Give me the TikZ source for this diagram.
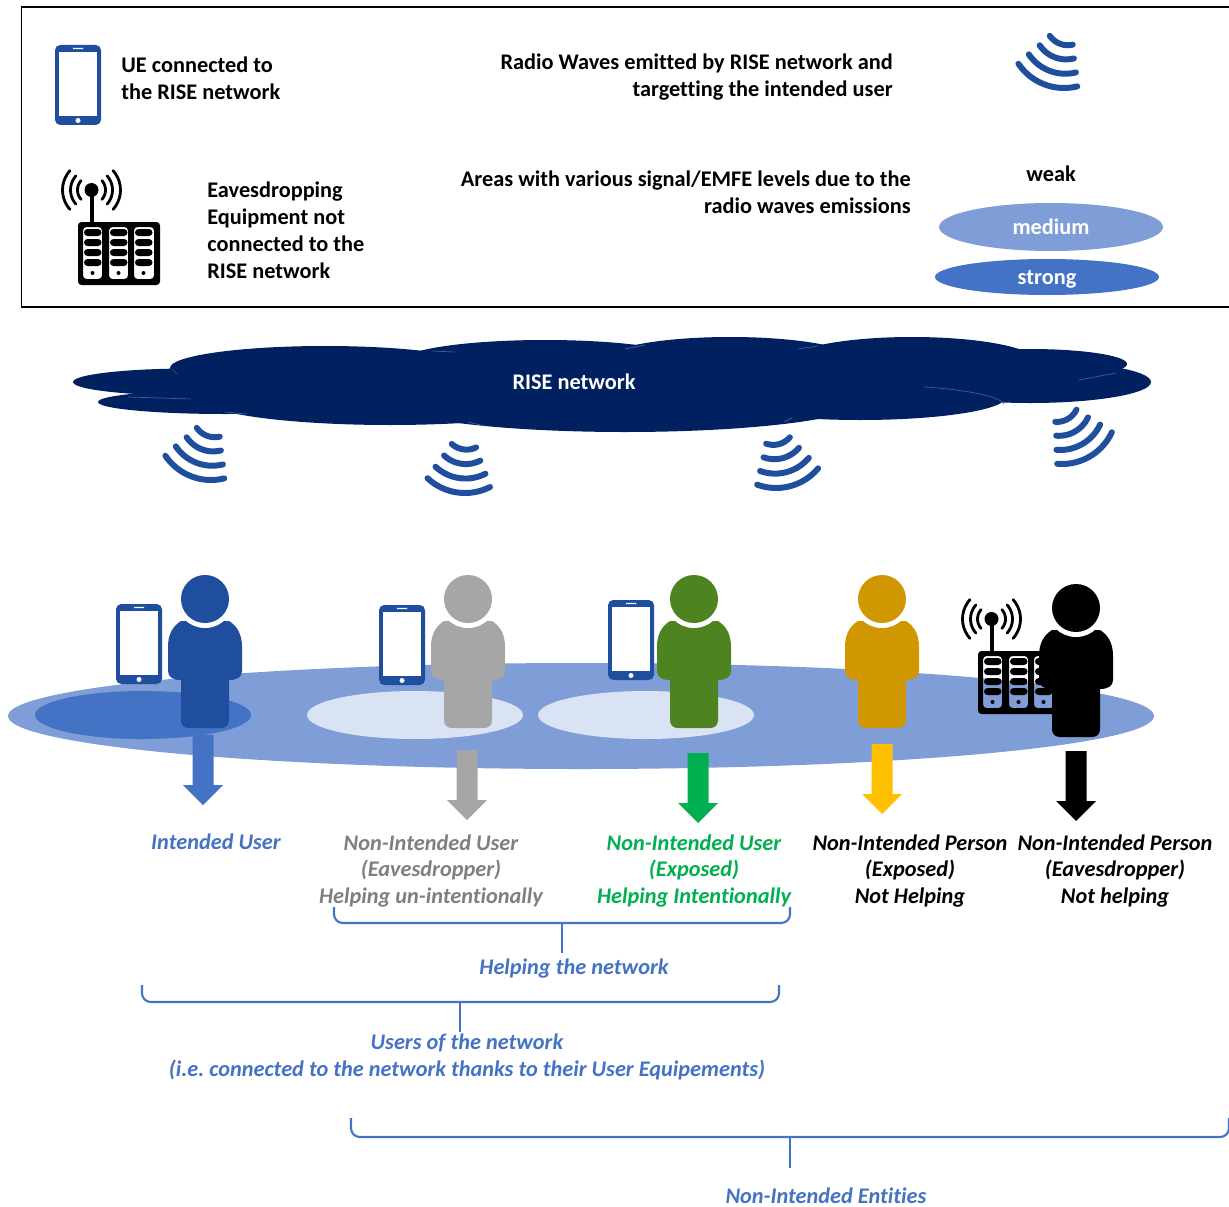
\documentclass[tikz,border=0pt]{standalone}
\usepackage{fontspec}
\setmainfont{Carlito}[Ligatures=NoCommon]
\frenchspacing
\usetikzlibrary{positioning}
\definecolor{phoneblue}{HTML}{1F4E9E}
\definecolor{midblue}{HTML}{4472C4}
\definecolor{softblue}{HTML}{7F9DD6}
\definecolor{paleblue}{HTML}{DAE3F3}
\definecolor{navy}{HTML}{002060}
\definecolor{seam}{HTML}{3F5F96}
\definecolor{personA}{HTML}{A6A6A6}
\definecolor{personB}{HTML}{4E841F}
\definecolor{personC}{HTML}{D09700}
\definecolor{arrowgreen}{HTML}{00B050}
\definecolor{arrowgold}{HTML}{FFC000}
\definecolor{labelgrey}{HTML}{7F7F7F}
\tikzset{
	label text/.style={font=\fontsize{12.7}{15.3}\selectfont\bfseries,inner sep=0pt,align=center},
	left text/.style={label text,align=left,anchor=west},
	right text/.style={label text,align=right,anchor=east},
	slant text/.style={label text,font=\fontsize{12.7}{15.3}\selectfont\bfseries\itshape},
	bracket/.style={draw=midblue,line width=1.2pt,rounded corners=5},
	wave line/.style={draw=phoneblue,line width=3.4pt,line cap=round},
	phone/.pic={
		\fill[phoneblue,rounded corners=3] (-23,-40) rectangle (23,40);
		\fill[white] (-19,-33) rectangle (19,31);
		\fill[white,rounded corners=1] (-5,-37.2) rectangle (5,-35.8);
		\fill[white] (0,35.5) circle (2.5);
	},
	waves/.pic={
		\foreach \r/\c/\a in {22/-10.5/34,32/-6/35,44/-3.5/35,55/0/35}{
			\draw[wave line] plot[domain=90-\a:90+\a,samples=15,smooth] ({\r*cos(\x)},{\c+\r*sin(\x)});
		}
	},
	person/.pic={
		\fill[pic actions] (-24,22) .. controls (-32,27) and (-37,35) .. (-37,48) -- (-37,72)
			.. controls (-37,78) and (-32,81) .. (-24,81) -- (-24,121)
			.. controls (-24,126) and (-21,129) .. (-16,129) -- (16,129)
			.. controls (21,129) and (24,126) .. (24,121) -- (24,81)
			.. controls (32,81) and (37,78) .. (37,72) -- (37,48)
			.. controls (37,35) and (32,27) .. (24,22) -- cycle;
		\fill[white] (0,0) circle (29);
		\fill[pic actions] (0,0) circle (24);
	},
	antenna/.pic={
		\fill[black,even odd rule,rounded corners=2] (0,0) rectangle (82,63)
			(5,5) rectangle (24,57) (31,5) rectangle (50,57) (56,5) rectangle (76,57);
		\fill[black] (11.5,-28) rectangle (15.5,2);
		\fill[black] (13.5,-32) circle (7);
		\foreach \cx in {5,31,56}{
			\foreach \by in {7,17,27,37}{
				\fill[black,rounded corners=2] ({\cx+1},\by) rectangle ({\cx+18.5},{\by+7});
			}
			\fill[black] ({\cx+9.5},51) circle (2);
		}
		\foreach \r in {14,21,29}{
			\draw[black,line width=1.6pt,line cap=round] plot[domain=-42:42,samples=11,smooth] ({13.5+\r*cos(\x)},{-32+\r*sin(\x)});
			\draw[black,line width=1.6pt,line cap=round] plot[domain=138:222,samples=11,smooth] ({13.5+\r*cos(\x)},{-32+\r*sin(\x)});
		}
	},
	block arrow/.pic={
		\fill[pic actions] (-10.5,0) -- (10.5,0) -- (10.5,50) -- (20,50) -- (0,70) -- (-20,50) -- (-10.5,50) -- cycle;
	},
}
\begin{document}
\begin{tikzpicture}[x=0.02cm,y=-0.02cm]
	\useasboundingbox (0,0) rectangle (1229,1206);
	% legend
	\draw[line width=0.7pt] (1229,7) -- (21.5,7) -- (21.5,307) -- (1229,307);
	\pic at (78,85) {phone};
	\pic at (78,222) {antenna};
	\pic[rotate=-21] at (1064,33) {waves};
	\node[left text] (ueText) at (121,78.5) {UE connected to\\the RISE network};
	\node[left text] (eavesText) at (207,230) {Eavesdropping\\Equipment not\\connected to the\\RISE network};
	\node[right text] (wavesText) at (893,77.5) {Radio Waves emitted by RISE network and\\targetting the intended user};
	\node[right text] (areasText) at (911,192.5) {Areas with various signal/EMFE levels due to the\\radio waves emissions};
	\fill[softblue] (1051,227) ellipse (112 and 24);
	\fill[midblue] (1047,277) ellipse (112 and 18);
	\node[label text] (weakText) at (1051,174) {weak};
	\node[label text,text=white] (mediumText) at (1051,227) {medium};
	\node[label text,text=white] (strongText) at (1047,279) {strong};
	% cloud
	\foreach \cx/\cy/\rx/\ry in {190/382/117/13.5,225/402/127/12,325/368/155/22,545/362/145/22,730/360/125/23,912/362/125/25,1030/364/97/15,1030/382/121/21,860/397/146/23,625/400/240/32,390/398/190/27}{
		\fill[navy] (\cx,\cy) ellipse [x radius=\rx,y radius=\ry];
	}
	\draw[seam,line width=0.4pt] (432,351) -- (455,352) (172,369) -- (177,374) (128,397) -- (191,399) (225,412) -- (247,414) (468,422) -- (485,426) (625,349) -- (645,345) (798,349) -- (818,346) (1079,380) -- (1116,373) (784,422) -- (792,418);
	\draw[seam,line width=0.4pt] (924,387) .. controls (960,389) and (1000,396) .. (1004,404);
	\node[label text,text=white] (cloudText) at (574,382) {RISE network};
	\pic[rotate=-21] at (211,425) {waves};
	\pic[rotate=-8] at (465,438) {waves};
	\pic[rotate=15] at (776,433) {waves};
	\pic[rotate=30] at (1062,409) {waves};
	% ground
	\fill[softblue] (581,716) ellipse (573 and 53);
	\fill[midblue] (143,715) ellipse (108 and 24);
	\fill[paleblue] (415,715) ellipse (108 and 24);
	\fill[paleblue] (646,715) ellipse (108 and 24);
	\pic at (139,644) {phone};
	\pic at (402,645) {phone};
	\pic at (631,640) {phone};
	\pic at (978,651) {antenna};
	\foreach \px/\py/\pcol in {205/599/phoneblue,468/599/personA,694/599/personB,882/599/personC,1076/608/black}{
		\pic[fill=\pcol] at (\px,\py) {person};
	}
	\foreach \ax/\ay/\acol in {203/735/midblue,467/750/personA,698/753/arrowgreen,882/744/arrowgold,1076/751/black}{
		\pic[fill=\acol] at (\ax,\ay) {block arrow};
	}
	% labels
	\node[slant text,text=midblue] (intendedText) at (216,842) {Intended User};
	\node[slant text,text=labelgrey] (eavesUserText) at (431,871) {Non-Intended User\\(Eavesdropper)\\Helping un-intentionally};
	\node[slant text,text=arrowgreen] (exposedUserText) at (694,871) {Non-Intended User\\(Exposed)\\Helping Intentionally};
	\node[slant text] (exposedPersonText) at (910,871) {Non-Intended Person\\(Exposed)\\Not Helping};
	\node[slant text] (eavesPersonText) at (1115,871) {Non-Intended Person\\(Eavesdropper)\\Not helping};
	% brackets
	\draw[bracket] (334,907) -- (334,923) -- (790,923) -- (790,907);
	\draw[bracket,rounded corners=0] (562,923) -- (562,953);
	\node[slant text,text=midblue] (helpingText) at (574,969) {Helping the network};
	\draw[bracket] (142,985) -- (142,1002) -- (779,1002) -- (779,985);
	\draw[bracket,rounded corners=0] (460,1002) -- (460,1032);
	\node[slant text,text=midblue] (usersText) at (467,1057) {Users of the network\\(i.e. connected to the network thanks to their User Equipements)};
	\draw[bracket] (351,1118) -- (351,1137) -- (1229,1137) -- (1229,1118);
	\draw[bracket,rounded corners=0] (790,1137) -- (790,1168);
	\node[slant text,text=midblue] (entitiesText) at (826,1196) {Non-Intended Entities};
\end{tikzpicture}
\end{document}
